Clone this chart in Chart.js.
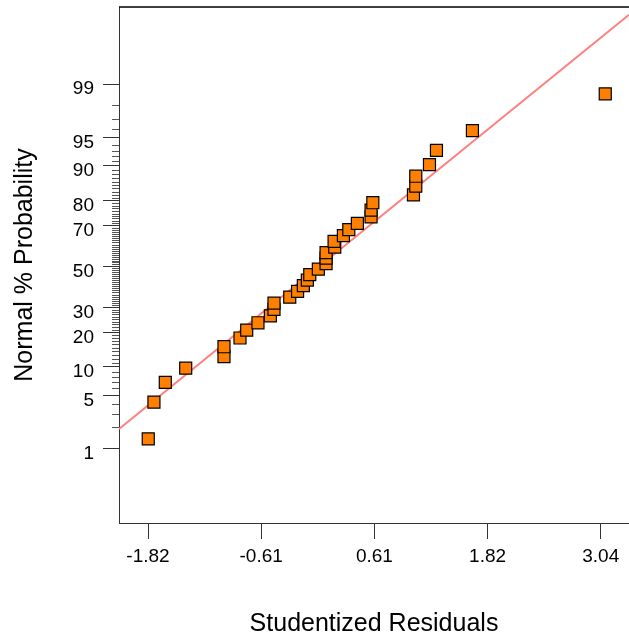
<!DOCTYPE html>
<html><head><meta charset="utf-8">
<script src="https://cdn.jsdelivr.net/npm/chart.js@4/dist/chart.umd.min.js"></script>
<style>html,body{margin:0;padding:0;background:#fff;overflow:hidden}</style>
</head><body>
<canvas id="c" width="629" height="643"></canvas>
<script>
// Studentized residuals, sorted
const residuals = [-1.82, -1.759, -1.637, -1.418, -1.007, -1.007, -0.835, -0.763, -0.642, -0.509,
  -0.470, -0.470, -0.301, -0.217, -0.155, -0.112, -0.086, 0.006, 0.089, 0.089,
  0.089, 0.182, 0.175, 0.275, 0.333, 0.425, 0.572, 0.572, 0.591, 1.027,
  1.052, 1.052, 1.199, 1.274, 1.660, 3.086];
// Normal % probability of each point
const normalPercent = [1.39, 4.17, 6.94, 9.72, 12.5, 15.28, 18.06, 20.83, 23.61, 26.39,
  29.17, 31.94, 34.72, 37.5, 40.28, 43.06, 45.83, 48.61, 51.39, 54.17,
  56.94, 59.72, 62.5, 65.28, 68.06, 70.83, 73.61, 76.39, 79.17, 81.94,
  84.72, 87.5, 90.28, 93.06, 95.83, 98.61];
// Reference line (residual, normal score)
const fitLineResidual = [-2.134, 3.341];
const fitLineScore = [-2.074, 3.210];
// Axis ticks
const xTickValues = [-1.8225, -0.6075, 0.6075, 1.8225, 3.0375];
const xTickLabels = ['-1.82', '-0.61', '0.61', '1.82', '3.04'];
const yMajorPercents = [1, 5, 10, 20, 30, 50, 70, 80, 90, 95, 99];
const xRange = [-2.134, 3.341];
const scoreRange = [-3.273, 3.309];

// inverse normal CDF (Acklam)
function probit(p) {
  const a = [-3.969683028665376e+01, 2.209460984245205e+02, -2.759285104469687e+02, 1.383577518672690e+02, -3.066479806614716e+01, 2.506628277459239e+00];
  const b = [-5.447609879822406e+01, 1.615858368580409e+02, -1.556989798598866e+02, 6.680131188771972e+01, -1.328068155288572e+01];
  const c = [-7.784894002430293e-03, -3.223964580411365e-01, -2.400758277161838e+00, -2.549732539343734e+00, 4.374664141464968e+00, 2.938163982698783e+00];
  const d = [7.784695709041462e-03, 3.224671290700398e-01, 2.445134137142996e+00, 3.754408661907416e+00];
  const pl = 0.02425, ph = 1 - pl;
  let q, r;
  if (p < pl) { q = Math.sqrt(-2 * Math.log(p)); return (((((c[0]*q+c[1])*q+c[2])*q+c[3])*q+c[4])*q+c[5]) / ((((d[0]*q+d[1])*q+d[2])*q+d[3])*q+1); }
  if (p > ph) { q = Math.sqrt(-2 * Math.log(1 - p)); return -(((((c[0]*q+c[1])*q+c[2])*q+c[3])*q+c[4])*q+c[5]) / ((((d[0]*q+d[1])*q+d[2])*q+d[3])*q+1); }
  q = p - 0.5; r = q * q;
  return (((((a[0]*r+a[1])*r+a[2])*r+a[3])*r+a[4])*r+a[5])*q / (((((b[0]*r+b[1])*r+b[2])*r+b[3])*r+b[4])*r+1);
}

const FONT = "'Liberation Sans', Arial, sans-serif";
Chart.defaults.font.family = FONT;
Chart.defaults.color = '#000';

const pointData = residuals.map((r, i) => ({ x: r, y: probit(normalPercent[i] / 100) }));
const lineData = fitLineResidual.map((r, i) => ({ x: r, y: fitLineScore[i] }));
const yTickScores = yMajorPercents.map(p => probit(p / 100));

function noPad(s) { s.paddingTop = 0; s.paddingBottom = 0; s.paddingLeft = 0; s.paddingRight = 0; }

const extras = {
  id: 'extras',
  afterDraw(chart) {
    const ctx = chart.ctx, a = chart.chartArea, ys = chart.scales.y;
    ctx.save();
    ctx.strokeStyle = '#555';
    ctx.lineWidth = 1;
    ctx.beginPath();
    for (let p = 1; p <= 99; p++) {
      if (yMajorPercents.includes(p)) continue;
      const y = Math.round(ys.getPixelForValue(probit(p / 100))) + 0.5;
      ctx.moveTo(a.left - 7, y);
      ctx.lineTo(a.left, y);
    }
    ctx.stroke();
    ctx.strokeStyle = '#000';
    ctx.lineWidth = 1.5;
    ctx.beginPath();
    ctx.moveTo(a.left, a.top);
    ctx.lineTo(a.right, a.top);
    ctx.stroke();
    ctx.restore();
  }
};

new Chart(document.getElementById('c'), {
  type: 'scatter',
  data: {
    datasets: [
      {
        data: pointData,
        pointStyle: 'rect',
        pointRadius: 8.5,
        pointHoverRadius: 8.5,
        backgroundColor: '#FF8000',
        borderColor: '#000',
        borderWidth: 1.2,
        showLine: false
      },
      {
        data: lineData,
        showLine: true,
        borderColor: '#FF7F7F',
        borderWidth: 2,
        pointRadius: 0,
        fill: false
      }
    ]
  },
  options: {
    responsive: false,
    animation: false,
    devicePixelRatio: 1,
    layout: { autoPadding: false, padding: { top: 7, right: 0, bottom: 0, left: 0 } },
    plugins: { legend: { display: false }, tooltip: { enabled: false } },
    scales: {
      x: {
        type: 'linear',
        min: xRange[0], max: xRange[1],
        afterBuildTicks: s => { s.ticks = xTickValues.map(v => ({ value: v })); },
        afterFit: s => { s.height = 120; noPad(s); },
        ticks: {
          callback: (v, i) => xTickLabels[i],
          font: { size: 19, family: FONT }, color: '#000', padding: 6,
          autoSkip: false, maxRotation: 0
        },
        grid: { drawOnChartArea: false, drawTicks: true, tickLength: 16, tickColor: '#333', tickWidth: 1 },
        border: { display: true, color: '#333', width: 1 },
        title: { display: true, text: 'Studentized Residuals', font: { size: 25, family: FONT }, color: '#000', padding: { top: 0, bottom: 4 } }
      },
      y: {
        type: 'linear',
        min: scoreRange[0], max: scoreRange[1],
        afterBuildTicks: s => { s.ticks = yTickScores.map(v => ({ value: v })); },
        afterFit: s => { s.width = 119; noPad(s); },
        ticks: {
          callback: (v, i) => String(yMajorPercents[i]),
          font: { size: 19, family: FONT }, color: '#000', padding: 9, labelOffset: 5,
          autoSkip: false
        },
        grid: { drawOnChartArea: false, drawTicks: true, tickLength: 16, tickColor: '#333', tickWidth: 1 },
        border: { display: true, color: '#333', width: 1 },
        title: { display: true, text: 'Normal % Probability', font: { size: 25, family: FONT }, color: '#000', padding: { top: 10, bottom: 0 } }
      }
    }
  },
  plugins: [extras]
});
</script>
</body></html>
